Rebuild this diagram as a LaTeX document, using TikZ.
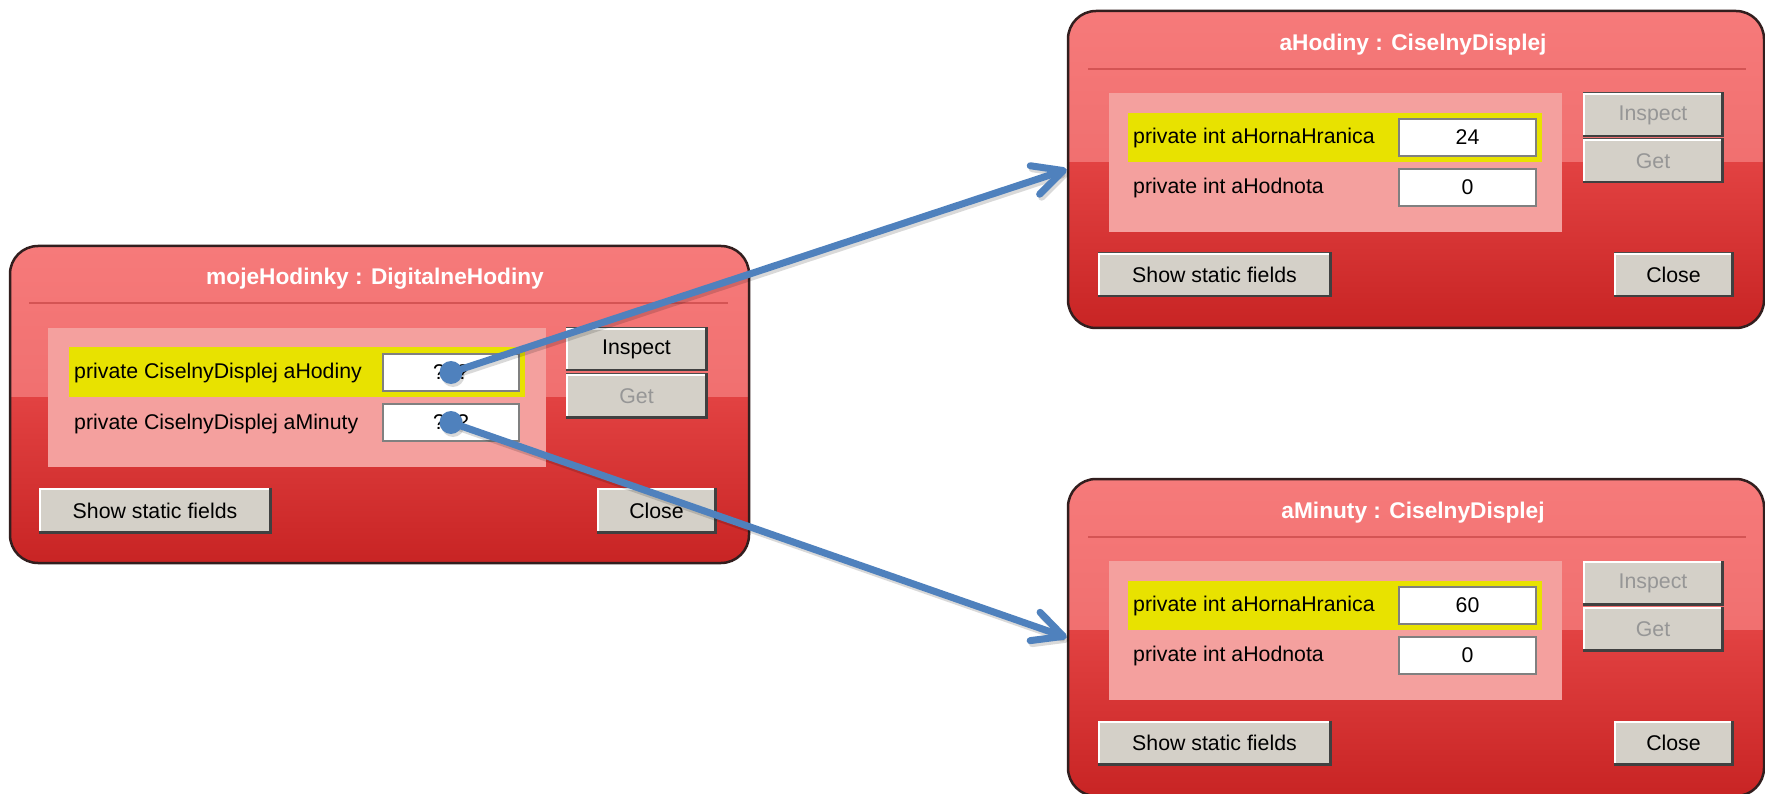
\documentclass[tikz,border=0pt]{standalone}
\usepackage{fontspec}
\setmainfont{Liberation Sans}
\usetikzlibrary{arrows.meta}

\definecolor{winA}{RGB}{246,122,122}
\definecolor{winB}{RGB}{234,100,100}
\definecolor{winC}{RGB}{226,66,66}
\definecolor{winD}{RGB}{200,36,36}
\definecolor{winedge}{RGB}{50,30,30}
\definecolor{seprule}{RGB}{212,84,84}
\definecolor{panelpink}{RGB}{244,160,158}
\definecolor{hiyellow}{RGB}{232,226,0}
\definecolor{btnface}{RGB}{212,208,200}
\definecolor{btnshade}{RGB}{64,64,64}
\definecolor{fieldedge}{RGB}{128,128,128}
\definecolor{linkblue}{RGB}{79,129,189}
\definecolor{dimtext}{RGB}{150,150,150}

\newcommand\uifont{\fontsize{21.3pt}{25pt}\selectfont}
\newcommand\ttlfont{\fontsize{22.7pt}{27pt}\selectfont\bfseries}

% generic box node given by its corners (x1,y1)-(x2,y2), y growing downwards
\newcommand\uibox[7][]{%
  \node[#1, minimum width={(#5-#3)*1pt}, minimum height={(#6-#4)*1pt}]
    (#2) at ({(#3+#5)/2},{(#4+#6)/2}) {#7};}

% raised push button with bevelled edges
\newcommand\uibutton[7][black]{%
  \uibox[btn, text=#1]{#2}{#3}{#4}{#5}{#6}{#7}
  \draw[white, line width=1.5pt]
    ([xshift=1.5pt,yshift=1.5pt]#2.south west) -- ([xshift=1.5pt,yshift=-1.5pt]#2.north west)
    -- ([xshift=-1.5pt,yshift=-1.5pt]#2.north east);
  \draw[btnshade, line width=2.5pt]
    ([xshift=-1.25pt]#2.north east) -- ([xshift=-1.25pt,yshift=1.25pt]#2.south east)
    -- ([yshift=1.25pt]#2.south west);}

\tikzset{
  win/.style={draw=winedge, line width=2.5pt, rounded corners=28pt, inner sep=0pt,
    path picture={
      \shade[sharp corners, top color=winA, bottom color=winB]
        (path picture bounding box.north west) rectangle ([yshift=7pt]path picture bounding box.east);
      \shade[sharp corners, top color=winC, bottom color=winD]
        ([yshift=7pt]path picture bounding box.west) rectangle (path picture bounding box.south east);
    }},
  ttl/.style={text=white, font=\ttlfont, inner sep=0pt},
  seprule/.style={draw=seprule, line width=2pt},
  panel/.style={fill=panelpink, inner sep=0pt},
  hilite/.style={fill=hiyellow, inner sep=0pt},
  field/.style={fill=white, draw=fieldedge, line width=1.5pt, inner sep=0pt, font=\uifont},
  btn/.style={fill=btnface, draw=gray!60!black, line width=1pt, inner sep=0pt, font=\uifont},
  lbl/.style={anchor=west, inner sep=0pt, font=\uifont},
  link/.style={draw=linkblue, line width=7pt, line cap=round,
    -{Straight Barb[length=30pt,width=30pt,round]}},
}

% inspector window of a CiselnyDisplej object
\newcommand\dispwin[4]{%
  \begin{scope}[shift={(0,#2)}]
    \uibox[win]{#1}{1068}{11}{1764}{328}{}
    \node[ttl] (#1-title) at (1413,45) {#3};
    \draw[seprule] (1088,69) -- (1746,69);
    \uibox[panel]{#1-panel}{1109}{93}{1562}{232}{}
    \uibox[hilite]{#1-hl}{1128}{113}{1542}{162}{}
    \node[lbl] (#1-l1) at (1133,138) {private int aHornaHranica};
    \node[lbl] (#1-l2) at (1133,188) {private int aHodnota};
    \uibox[field]{#1-f1}{1399}{119}{1536}{156}{#4}
    \uibox[field]{#1-f2}{1399}{169}{1536}{206}{0}
    \uibutton[dimtext]{#1-insp}{1583}{93}{1723}{137}{Inspect}
    \uibutton[dimtext]{#1-get}{1583}{139}{1723}{183}{Get}
    \uibutton{#1-static}{1098}{253}{1331}{297}{Show static fields}
    \uibutton{#1-close}{1614}{253}{1733}{297}{Close}
  \end{scope}}

\begin{document}
\begin{tikzpicture}[x=1pt, y=-1pt]
  \useasboundingbox (0,0) rectangle (1765,794);
  \fill[white] (0,0) rectangle (1765,794);

  % DigitalneHodiny inspector
  \uibox[win]{mw}{10}{246}{749}{563}{}
  \node[ttl] (mw-title) at (375,279) {mojeHodinky : DigitalneHodiny};
  \draw[seprule] (29,303) -- (728,303);
  \uibox[panel]{mw-panel}{48}{328}{546}{467}{}
  \uibox[hilite]{mw-hl}{69}{347}{525}{397}{}
  \node[lbl] (mw-l1) at (74,373) {private CiselnyDisplej aHodiny};
  \node[lbl] (mw-l2) at (74,424) {private CiselnyDisplej aMinuty};
  \uibox[field]{mw-f1}{383}{354}{519}{391}{???}
  \uibox[field]{mw-f2}{383}{404}{519}{441}{???}
  \uibutton{mw-insp}{566}{328}{707}{371}{Inspect}
  \uibutton[dimtext]{mw-get}{566}{374}{707}{418}{Get}
  \uibutton{mw-static}{39}{488}{271}{533}{Show static fields}
  \uibutton{mw-close}{597}{488}{716}{533}{Close}

  % CiselnyDisplej inspectors
  \dispwin{hw}{0}{aHodiny : CiselnyDisplej}{24}
  \dispwin{minw}{468}{aMinuty : CiselnyDisplej}{60}

  % reference arrows (soft shadow first)
  \begin{scope}[transform canvas={shift={(2pt,-3pt)}}]
    \draw[link, draw=black, opacity=.15] (mw-f1.center) -- (hw.west);
    \draw[link, draw=black, opacity=.15] (mw-f2.center) -- (minw.west);
    \fill[black, opacity=.15] (mw-f1.center) circle (11.5);
    \fill[black, opacity=.15] (mw-f2.center) circle (11.5);
  \end{scope}
  \draw[link] (mw-f1.center) -- (hw.west);
  \draw[link] (mw-f2.center) -- (minw.west);
  \fill[linkblue] (mw-f1.center) circle (11.5);
  \fill[linkblue] (mw-f2.center) circle (11.5);
\end{tikzpicture}
\end{document}
